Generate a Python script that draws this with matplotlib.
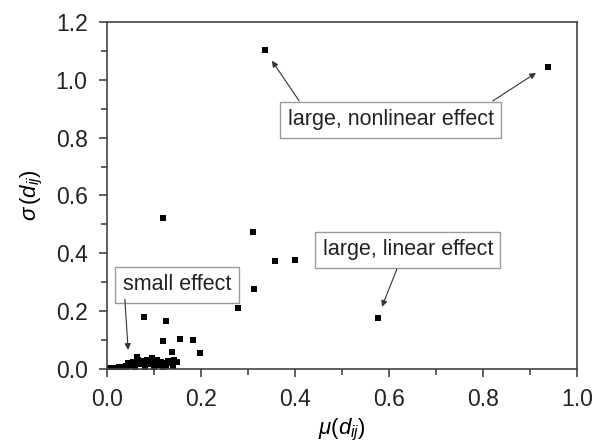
"""Scatter mu(d_ij) / sigma(d_ij) avec trois zones annotees."""
import matplotlib
matplotlib.use("Agg")
import matplotlib.pyplot as plt
from matplotlib.ticker import MultipleLocator

plt.rcParams["font.family"] = ["Liberation Sans", "DejaVu Sans"]
plt.rcParams["mathtext.fontset"] = "custom"
plt.rcParams["mathtext.it"] = "Liberation Sans:italic"
plt.rcParams["mathtext.rm"] = "Liberation Sans"
plt.rcParams["text.color"] = "#222222"

# points isoles
mu = [0.336, 0.938, 0.119, 0.311, 0.357, 0.400, 0.313, 0.279, 0.577,
      0.079, 0.125, 0.120, 0.156, 0.183, 0.138, 0.198,
      0.063, 0.095, 0.077, 0.106, 0.143, 0.130]
sigma = [1.104, 1.045, 0.522, 0.474, 0.374, 0.377, 0.277, 0.211, 0.176,
         0.181, 0.166, 0.097, 0.104, 0.100, 0.060, 0.054,
         0.043, 0.039, 0.029, 0.031, 0.031, 0.029]

# amas pres de l'origine
mu_small = [0.003, 0.005, 0.010, 0.012, 0.015, 0.020, 0.020, 0.025, 0.030, 0.030,
            0.035, 0.040, 0.040, 0.045, 0.045, 0.050, 0.055, 0.055, 0.060, 0.060,
            0.065, 0.065, 0.070, 0.075, 0.080, 0.080, 0.085, 0.085, 0.090, 0.100,
            0.100, 0.110, 0.115, 0.120, 0.120, 0.125, 0.135, 0.140, 0.140, 0.150]
sigma_small = [0.001, 0.002, 0.003, 0.001, 0.004, 0.005, 0.002, 0.006, 0.008, 0.002,
               0.007, 0.010, 0.003, 0.012, 0.020, 0.010, 0.015, 0.025, 0.013, 0.004,
               0.018, 0.030, 0.016, 0.020, 0.015, 0.006, 0.022, 0.030, 0.018, 0.020,
               0.008, 0.015, 0.025, 0.020, 0.006, 0.012, 0.022, 0.018, 0.010, 0.025]

axis_gray = "#444444"
box_gray = "#9a9a9a"

fig = plt.figure(figsize=(5.96, 4.47), dpi=100)
ax = fig.add_axes([0.1795, 0.1745, 0.7885, 0.7763])

ax.plot(mu_small, sigma_small, "s", color="black", ms=5, mew=0)
ax.plot(mu, sigma, "s", color="black", ms=5, mew=0)

ax.set_xlim(0, 1.0)
ax.set_ylim(0, 1.2)
ax.xaxis.set_major_locator(MultipleLocator(0.2))
ax.xaxis.set_minor_locator(MultipleLocator(0.1))
ax.yaxis.set_major_locator(MultipleLocator(0.2))
ax.yaxis.set_minor_locator(MultipleLocator(0.1))
ax.xaxis.set_major_formatter(plt.FuncFormatter(lambda v, p: f"{v:.1f}"))
ax.yaxis.set_major_formatter(plt.FuncFormatter(lambda v, p: f"{v:.1f}"))

for s in ax.spines.values():
    s.set_color(axis_gray)
    s.set_linewidth(1.2)
ax.tick_params(which="both", direction="out", color=axis_gray, width=1.2,
               labelsize=16.5, labelcolor="#222222", top=False, right=False)
ax.tick_params(which="major", length=6, pad=8)
ax.tick_params(which="minor", length=4)

ax.set_xlabel(r"$\mu(d_{ij})$", fontsize=16, labelpad=4)
ax.set_ylabel(r"$\sigma\,(d_{ij})$", fontsize=16, labelpad=8)

bbox = dict(boxstyle="square,pad=0.35", facecolor="white", edgecolor=box_gray, lw=1)
arrow = dict(arrowstyle="-|>", color="#333333", lw=0.8, mutation_scale=9, shrinkA=0, shrinkB=0)

ax.text(0.604, 0.862, "large, nonlinear effect", fontsize=15.5, ha="center", va="center", bbox=bbox)
ax.annotate("", xy=(0.351, 1.066), xytext=(0.409, 0.927), arrowprops=arrow)
ax.annotate("", xy=(0.913, 1.024), xytext=(0.821, 0.927), arrowprops=arrow)

ax.text(0.640, 0.412, "large, linear effect", fontsize=15.5, ha="center", va="center", bbox=bbox)
ax.annotate("", xy=(0.585, 0.215), xytext=(0.617, 0.346), arrowprops=arrow)

ax.text(0.149, 0.291, "small effect", fontsize=15.5, ha="center", va="center", bbox=bbox)
ax.annotate("", xy=(0.045, 0.066), xytext=(0.038, 0.242), arrowprops=arrow)

fig.savefig("out.png", dpi=100)
